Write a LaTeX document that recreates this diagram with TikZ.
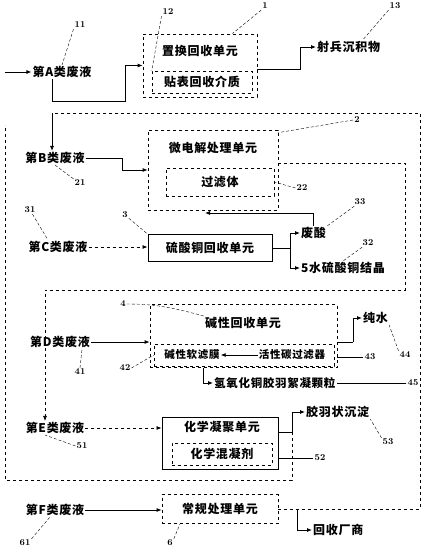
\documentclass[tikz,border=0pt]{standalone}
\usepackage{fontspec}
\newfontfamily\cjk[LetterSpace=6]{Noto Sans CJK SC}
\usetikzlibrary{positioning,arrows.meta,calc}

\begin{document}
\begin{tikzpicture}[x=1pt,y=-1pt,font=\cjk\bfseries\fontsize{12}{13}\selectfont,>={Latex[length=5pt,width=4pt]},
  unit/.style={rectangle,draw,dashed,line width=0.8pt},
  sunit/.style={rectangle,draw,line width=0.9pt},
  inbox/.style={rectangle,draw,dashed,line width=0.5pt,inner sep=2pt},
  tx/.style={inner sep=1pt},
  num/.style={font=\fontsize{9}{10}\selectfont\bfseries,inner sep=1pt},
  ar/.style={->,line width=0.8pt},
  ln/.style={line width=0.8pt},
  ld/.style={densely dashed,line width=0.4pt},
  ret/.style={dashed,line width=0.7pt}]
\useasboundingbox (0,0) rectangle (422,549);
% A
\node[tx](wA) at (62,72){第A类废液};
\coordinate (sA) at (5,72);
\draw[ar](sA)--(wA.west);
\node[unit,minimum width=114pt,minimum height=63pt](u1) at (200,65.5){};
\node[tx](u1a) at (200,51){置换回收单元};
\node[inbox,minimum width=100pt,minimum height=22pt](u1b) at (202,82){贴表回收介质};
\coordinate (a1) at (52,101);\coordinate (a2) at (125,101);\coordinate (a3) at (300,69);
\draw[ar](wA.south -| a1)--(a1)--(a2)|-(u1.west);
\node[tx,anchor=west](o13) at (316,47){射兵沉积物};
\draw[ar](u1.east |- a3)--(a3)|-(o13.west);
\node[num](n1) at (265,6){1};
\node[num](n11) at (80,25){11};
\node[num](n12) at (168,12){12};
\node[num](n13) at (395,6){13};
\draw[ld](n1.south west)--([xshift=-25pt]u1.north east);
\draw[ld](n11.south west)--(wA.north);
\draw[ld](n12.south west)--(u1b.north west);
\draw[ld](n13.south west)--([xshift=14pt]o13.north);
% B
\coordinate (t0) at (52,113);\coordinate (t1) at (420,113);\coordinate (t2) at (420,509);
\node[tx](wB) at (55,158){第B类废液};
\draw[ar](t0)--(wB.north -| t0);
\node[unit,minimum width=130pt,minimum height=80pt](u2) at (213,170){};
\node[tx](u2a) at (213,148){微电解处理单元};
\node[inbox,minimum width=108pt,minimum height=28pt](u2b) at (220,182){过滤体};
\coordinate (b1) at (122,158);
\draw[ar](wB.east)--(b1)|-(u2.west);
\node[num](n2) at (357,120){2};
\node[num](n21) at (80,183){21};
\node[num](n22) at (302,188){22};
\draw[ld](n2.west)--([yshift=-3pt]u2.north east);
\draw[ld](n21.north west)--(wB.south);
\draw[ld](n22.west)--(u2b.east);
% C
\node[tx](wC) at (58,247){第C类废液};
\node[sunit,minimum width=124pt,minimum height=27pt](u3) at (210,248){硫酸铜回收单元};
\draw[ar,dashed](wC.east)--(wC.east -| u3.west);
\coordinate (c3) at (290,248);
\node[tx,anchor=west](o33) at (300,233){废酸};
\node[tx,anchor=west](o32) at (300,268){5水硫酸铜结晶};
\draw[ln](u3.east)--(c3);
\draw[ar](c3)|-(o33.west);
\draw[ar](c3)|-(o32.west);
\coordinate (f1) at (205,213);
\draw[ar](o33.north)|-(f1);
\node[num](n3) at (125,215){3};
\node[num](n31) at (30,210){31};
\node[num](n33) at (360,202){33};
\node[num](n32) at (368,243){32};
\draw[ld](n3)--(u3.north west);
\draw[ld](n31)--([xshift=-10pt]wC.north);
\draw[ld](n33)--(o33.north east);
\draw[ld](n32)--(o32.north);
% D
\node[unit,minimum width=187pt,minimum height=63pt](u4) at (243.5,336){};
\node[tx](u4a) at (243,323){碱性回收单元};
\node[inbox,minimum width=180pt,minimum height=22pt](u4b) at (244,355){};
\node[tx,font=\cjk\bfseries\fontsize{10.5}{12}\selectfont](f42) at (192,355){碱性软滤膜};
\node[tx,font=\cjk\bfseries\fontsize{10.5}{12}\selectfont](f43) at (292,355){活性碳过滤器};
\draw[ar](f43)--(f42);
\node[tx](wD) at (60,342){第D类废液};
\draw[ar](wD.east)--(wD.east -| u4.west);
\coordinate (c4) at (353,342);
\node[tx,anchor=west](o44) at (362,318){纯水};
\draw[ln](u4.east |- c4)--(c4);
\draw[ar](c4)|-(o44.west);
\node[tx,anchor=west,font=\cjk\bfseries\fontsize{11.5}{13}\selectfont](o45) at (213,383){氢氧化铜胶羽絮凝颗粒};
\draw[ar]([xshift=-40pt]u4.south)|-(o45.west);
\node[num](n4) at (123,304){4};
\node[num](n41) at (80,372){41};
\node[num](n42) at (125,368){42};
\node[num](n43) at (370,357){43};
\node[num](n44) at (405,355){44};
\node[num](n45) at (413,383){45};
\draw[ld](n4.east) to[out=0,in=165] (u4a.north west);
\draw[ld](n41.north)--([xshift=22pt]wD.south);
\draw[ld](n42.east)--(u4b.west);
\draw[line width=0.5pt](n43.west)--(n43.west -| u4.east);
\draw[ld](n44.north west)--(o44.south east);
\draw[line width=0.5pt](n45.west)--(o45.east);
% E
\node[tx](wE) at (55,428){第E类废液};
\coordinate (r1) at (405,290);\coordinate (l1) at (45,290);
\draw[ar,ret]([yshift=7pt]u2.east)-|(r1)--(l1)--(wE.north -| l1);
\node[sunit,minimum width=116pt,minimum height=52pt](u5) at (220,443){};
\node[tx](u5a) at (222,427){化学凝聚单元};
\node[inbox,minimum width=100pt,minimum height=22pt](u5b) at (222,454){化学混凝剂};
\draw[ar,dashed](wE.east)--(wE.east -| u5.west);
\coordinate (c5) at (292,432);
\node[tx,anchor=west](o53) at (305,412){胶羽状沉淀};
\draw[ln](u5.east |- c5)--(c5);
\draw[ar](c5)|-(o53.west);
\coordinate (e1) at (292,480);\coordinate (e2) at (5,480);\coordinate (e3) at (5,125);
\draw[ret](c5)--(e1)--(e2)--(e3);
\node[num](n51) at (82,446){51};
\node[num](n52) at (320,458){52};
\node[num](n53) at (388,442){53};
\draw[ld](n51.west)--([xshift=-10pt]wE.south);
\draw[line width=0.5pt](n52.west)--(n52.west -| u5.east);
\draw[ld](n53.north west)--(o53.south east);
% F
\node[tx](wF) at (55,510){第F类废液};
\node[unit,minimum width=116pt,minimum height=29pt](u6) at (220,509){常规处理单元};
\draw[ar](wF.east)--(wF.east -| u6.west);
\draw[ret](u6.east)--(t2)--(t1)--(t0);
\coordinate (c6) at (297,509);
\node[tx,anchor=west](o6) at (312,530){回收厂商};
\draw[ar](c6)|-(o6.west);
\node[num](n61) at (25,543){61};
\node[num](n6) at (170,543){6};
\draw[ld](n61.north east)--([xshift=-5pt]wF.south);
\draw[ld](n6.north east)--([xshift=-40pt]u6.south);
\end{tikzpicture}
\end{document}
